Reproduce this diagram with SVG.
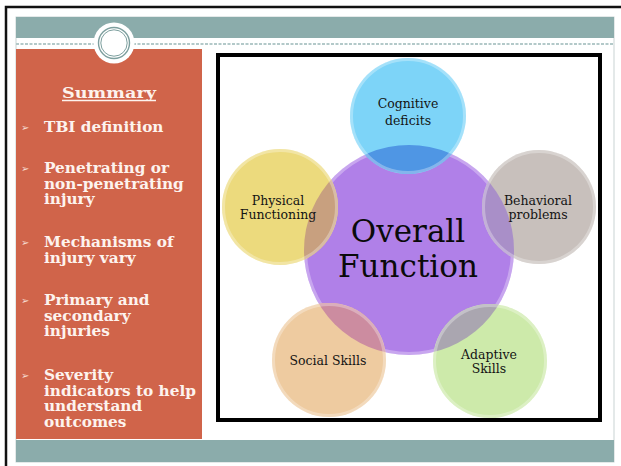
<svg xmlns="http://www.w3.org/2000/svg" width="621" height="466" viewBox="0 0 621 466">
  <style>
    .panel-text { font-family: "DejaVu Serif", "Liberation Serif", serif; font-weight: bold; font-size: 15.3px; fill: #fdf3ee; }
    .bullet { font-family: "DejaVu Sans", sans-serif; font-size: 10px; fill: #f6dcd2; }
    .label { font-family: "DejaVu Serif", "Liberation Serif", serif; font-size: 12.5px; fill: #141414; text-anchor: middle; }
    .big { font-family: "DejaVu Serif", "Liberation Serif", serif; font-size: 31px; fill: #0a0a0a; text-anchor: middle; }
    .rim { fill: none; stroke: #ffffff; stroke-opacity: 0.3; stroke-width: 3; }
  </style>
  <defs>
    <clipPath id="core-clip">
      <circle cx="409" cy="250" r="105"/>
    </clipPath>
  </defs>

  <rect width="621" height="466" fill="#ffffff"/>

  <!-- outer frame edge -->
  <path d="M6,466 V7 H621" fill="none" stroke="#111111" stroke-width="2.5"/>

  <!-- slide background and border -->
  <rect x="16" y="17" width="598" height="445" fill="#ffffff" stroke="#c9d3d3" stroke-width="1"/>
  <rect x="16" y="17" width="598" height="21" fill="#8bacab"/>
  <line x1="16" y1="44" x2="613" y2="44" stroke="#b3c9c9" stroke-width="2" stroke-dasharray="3 1.5"/>
  <rect x="16" y="440" width="598" height="22" fill="#8bacab"/>

  <!-- summary panel -->
  <g id="summary-panel">
    <rect x="16" y="49" width="186" height="390" fill="#d0644a"/>
    <text class="panel-text" x="62" y="98" font-size="18" textLength="94" lengthAdjust="spacingAndGlyphs">Summary</text>
    <line x1="62" y1="100.5" x2="156" y2="100.5" stroke="#fdf3ee" stroke-width="1.3"/>

    <text class="bullet" x="21" y="131">➢</text>
    <text class="panel-text" x="44" y="132">TBI definition</text>

    <text class="bullet" x="21" y="172">➢</text>
    <text class="panel-text" x="44" y="173">Penetrating or</text>
    <text class="panel-text" x="44" y="188.5">non-penetrating</text>
    <text class="panel-text" x="44" y="204">injury</text>

    <text class="bullet" x="21" y="246">➢</text>
    <text class="panel-text" x="44" y="247">Mechanisms of</text>
    <text class="panel-text" x="44" y="262.5">injury vary</text>

    <text class="bullet" x="21" y="304">➢</text>
    <text class="panel-text" x="44" y="305">Primary and</text>
    <text class="panel-text" x="44" y="320.5">secondary</text>
    <text class="panel-text" x="44" y="336">injuries</text>

    <text class="bullet" x="21" y="379">➢</text>
    <text class="panel-text" x="44" y="380">Severity</text>
    <text class="panel-text" x="44" y="395.5">indicators to help</text>
    <text class="panel-text" x="44" y="411">understand</text>
    <text class="panel-text" x="44" y="426.5">outcomes</text>
  </g>

  <!-- title ornament -->
  <g id="ornament">
    <circle cx="114" cy="43" r="20.5" fill="#ffffff"/>
    <circle cx="114" cy="43" r="15.5" fill="none" stroke="#7d9f9e" stroke-width="1.4"/>
    <circle cx="114" cy="43" r="13.2" fill="none" stroke="#7d9f9e" stroke-width="1"/>
  </g>

  <!-- picture frame -->
  <rect x="218" y="55" width="382" height="365" fill="#ffffff" stroke="#000000" stroke-width="4"/>

  <!-- central circle -->
  <g id="overall-function">
    <circle cx="409" cy="250" r="105" fill="#b080e8"/>
    <circle cx="409" cy="250" r="103.5" class="rim" stroke-opacity="0.25"/>
  </g>

  <g id="cognitive-deficits">
    <circle cx="408" cy="116" r="58" fill="#7dd4f8"/>
    <circle cx="408" cy="116" r="58" fill="#4f96e4" clip-path="url(#core-clip)"/>
    <circle cx="408" cy="116" r="56.5" class="rim"/>
    <text class="label" x="408" y="108">Cognitive</text>
    <text class="label" x="408" y="125">deficits</text>
  </g>

  <g id="physical-functioning">
    <circle cx="280" cy="207" r="58" fill="#ecda7d"/>
    <circle cx="280" cy="207" r="58" fill="#c8a07f" clip-path="url(#core-clip)"/>
    <circle cx="280" cy="207" r="56.5" class="rim"/>
    <text class="label" x="278" y="205">Physical</text>
    <text class="label" x="278" y="219">Functioning</text>
  </g>

  <g id="behavioral-problems">
    <circle cx="539" cy="207" r="57" fill="#c8c0bc"/>
    <circle cx="539" cy="207" r="57" fill="#a98fc8" clip-path="url(#core-clip)"/>
    <circle cx="539" cy="207" r="55.5" class="rim"/>
    <text class="label" x="538" y="205">Behavioral</text>
    <text class="label" x="538" y="219">problems</text>
  </g>

  <g id="social-skills">
    <circle cx="329" cy="360" r="57" fill="#eecba0"/>
    <circle cx="329" cy="360" r="57" fill="#cc8ca0" clip-path="url(#core-clip)"/>
    <circle cx="329" cy="360" r="55.5" class="rim"/>
    <text class="label" x="328" y="365">Social Skills</text>
  </g>

  <g id="adaptive-skills">
    <circle cx="490" cy="361" r="57" fill="#cdeaaa"/>
    <circle cx="490" cy="361" r="57" fill="#aaa6b0" clip-path="url(#core-clip)"/>
    <circle cx="490" cy="361" r="55.5" class="rim"/>
    <text class="label" x="489" y="359">Adaptive</text>
    <text class="label" x="489" y="373">Skills</text>
  </g>

  <!-- central label -->
  <g id="overall-label">
    <text class="big" x="408" y="242">Overall</text>
    <text class="big" x="408" y="277">Function</text>
  </g>
</svg>
